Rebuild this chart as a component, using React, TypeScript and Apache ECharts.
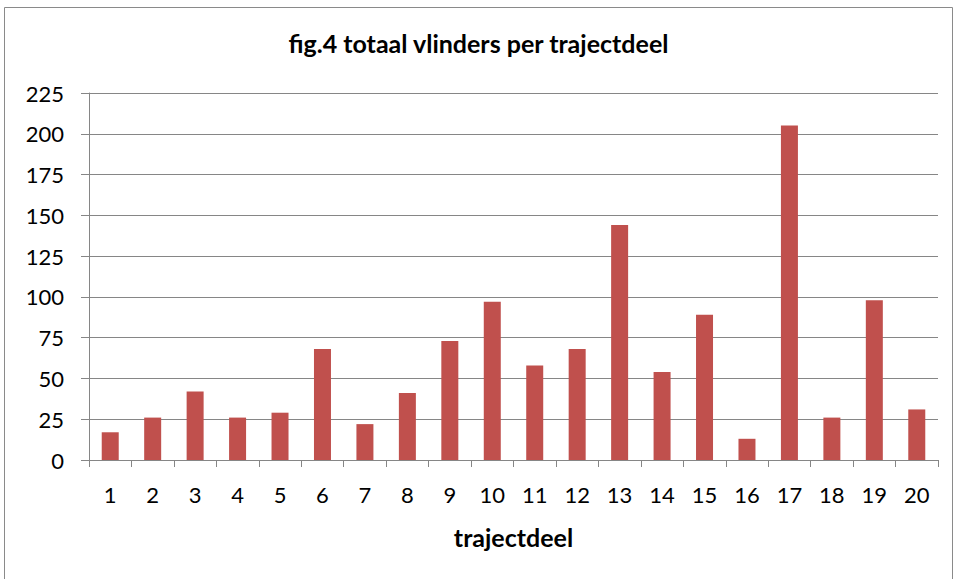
import React, { useEffect, useRef } from "react";
import * as echarts from "echarts";

const categories = ["1","2","3","4","5","6","7","8","9","10","11","12","13","14","15","16","17","18","19","20"];
const values = [17, 26, 42, 26, 29, 68, 22, 41, 73, 97, 58, 68, 144, 54, 89, 13, 205, 26, 98, 31];
const titleText = "fig.4 totaal vlinders per trajectdeel";
const xAxisName = "trajectdeel";

export default function App() {
  const ref = useRef<HTMLDivElement>(null);
  useEffect(() => {
    const chart = echarts.init(ref.current!, null, { renderer: "svg" });
    const font = "Lato, 'Open Sans', sans-serif";
    chart.setOption({
      animation: false,
      backgroundColor: "#ffffff",
      title: {
        text: titleText,
        left: "center",
        top: 25,
        textStyle: { fontFamily: font, fontSize: 25, fontWeight: "bold", color: "#000" },
      },
      graphic: [
        {
          type: "rect",
          shape: { x: 4.5, y: 7.5, width: 948, height: 600 },
          style: { fill: "none", stroke: "#8a8a8a", lineWidth: 1 },
          silent: true,
        },
      ],
      grid: { left: 89, right: 19, top: 93, bottom: 119, containLabel: false },
      xAxis: {
        type: "category",
        data: categories,
        name: xAxisName,
        nameLocation: "middle",
        nameGap: 64,
        nameTextStyle: { fontFamily: font, fontSize: 25, fontWeight: "bold", color: "#000" },
        axisLine: { lineStyle: { color: "#868686", width: 1 } },
        axisTick: { show: true, length: 7, alignWithLabel: false, lineStyle: { color: "#868686" } },
        axisLabel: { fontFamily: font, fontSize: 22, color: "#000", margin: 23 },
      },
      yAxis: {
        type: "value",
        min: 0,
        max: 225,
        interval: 25,
        axisLine: { show: true, lineStyle: { color: "#868686", width: 1 } },
        axisTick: { show: true, length: 8, lineStyle: { color: "#868686" } },
        axisLabel: { fontFamily: font, fontSize: 22, color: "#000", margin: 25 },
        splitLine: { show: true, lineStyle: { color: "#868686", width: 1 } },
      },
      series: [
        {
          type: "bar",
          data: values,
          barWidth: 17,
          itemStyle: { color: "#C0504D" },
        },
      ],
    });
    return () => chart.dispose();
  }, []);
  return <div ref={ref} style={{ position: "fixed", left: 0, top: 0, width: 957, height: 579 }} />;
}
